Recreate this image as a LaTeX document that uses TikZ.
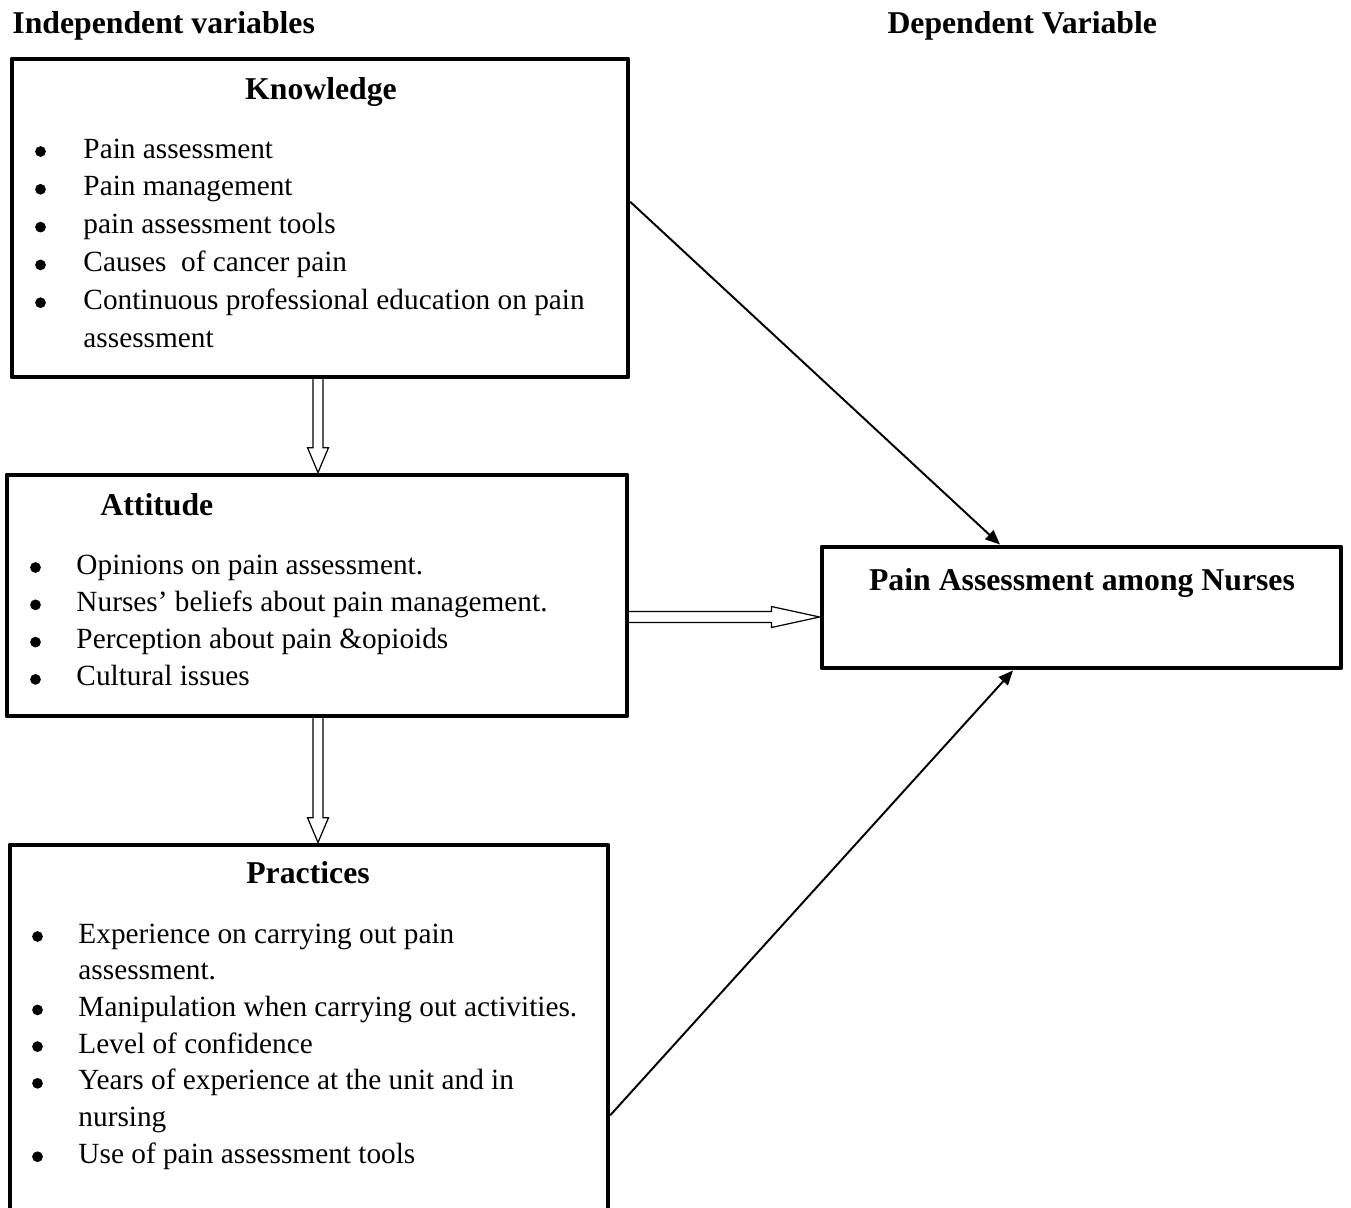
\documentclass[tikz,border=0pt]{standalone}
\usepackage{fontspec}
\setmainfont{Liberation Serif}
\usetikzlibrary{arrows.meta,calc,fit}
\tikzset{
  box/.style={draw, line width=2pt, inner sep=0pt},
  item/.style={anchor=base west, inner sep=0pt, font=\fontsize{12}{14}\selectfont},
  dot/.style={circle, fill, inner sep=0pt, minimum size=4.4pt},
  head/.style={anchor=base, inner sep=0pt, font=\fontsize{13}{15}\selectfont\bfseries},
  link/.style={line width=0.8pt, -{Triangle[length=6pt,width=5pt]}},
  hollow/.style={line width=0.5pt, line join=miter}
}
% hollow block arrows, from #1 to #2
\newcommand\hollowdown[2]{%
  \draw[hollow] ($(#1)+(-2.05pt,0pt)$) -- ($(#2)+(-2.05pt,10.2pt)$) -- ($(#2)+(-4.3pt,10.2pt)$) -- (#2)
    -- ($(#2)+(4.3pt,10.2pt)$) -- ($(#2)+(2.05pt,10.2pt)$) -- ($(#1)+(2.05pt,0pt)$);}
\newcommand\hollowright[2]{%
  \draw[hollow] ($(#1)+(0pt,2.25pt)$) -- ($(#2)+(-19.7pt,2.25pt)$) -- ($(#2)+(-19.7pt,4.3pt)$) -- (#2)
    -- ($(#2)+(-19.7pt,-4.3pt)$) -- ($(#2)+(-19.7pt,-2.25pt)$) -- ($(#1)+(0pt,-2.25pt)$);}
\begin{document}
\begin{tikzpicture}[x=0.4096pt, y=-0.4096pt, line join=round, line cap=round]
\clip (0,0) rectangle (1351,1207);
\node[head, anchor=base west] (indep) at (12,33) {Independent variables};
\node[head, anchor=base west] (dep) at (887,33) {Dependent Variable};
% boxes
\node[box, fit={(12,59) (628,377)}] (know) {};
\node[box, fit={(7,475) (627,716)}] (att) {};
\node[box, fit={(10,845) (608,1240)}] (prac) {};
\node[box, fit={(822,547) (1341,668)}] (pain) {};
% titles
\node[head] (knowt) at (321,99) {Knowledge};
\node[head, anchor=base west] (attt) at (100,515) {Attitude};
\node[head] (pract) at (308,883) {Practices};
\node[head] (paint) at (1082,590) {Pain Assessment among Nurses};
% lists
\foreach \t/\b [count=\i] in {Pain assessment/1, Pain management/1, pain assessment tools/1,
  Causes\ \ of cancer pain/1, Continuous professional education on pain/1, assessment/0}{
  \ifnum\b=1 \node[dot] (kb\i) at (40.5,{151.5+37.8*(\i-1)}) {};\fi
  \node[item] (k\i) at (83,{158+37.8*(\i-1)}) {\t};
}
\foreach \t/\b [count=\i] in {Opinions on pain assessment./1, Nurses' beliefs about pain management./1,
  Perception about pain \&opioids/1, Cultural issues/1}{
  \ifnum\b=1 \node[dot] (ab\i) at (35.5,{567.5+37.3*(\i-1)}) {};\fi
  \node[item] (a\i) at (76,{574+37.3*(\i-1)}) {\t};
}
\foreach \t/\b [count=\i] in {Experience on carrying out pain/1, assessment./0,
  Manipulation when carrying out activities./1, Level of confidence/1,
  Years of experience at the unit and in/1, nursing/0, Use of pain assessment tools/1}{
  \ifnum\b=1 \node[dot] (pb\i) at (37.5,{936.5+36.7*(\i-1)}) {};\fi
  \node[item] (p\i) at (78,{943+36.7*(\i-1)}) {\t};
}
% connectors
\coordinate (kout) at (0,202);
\coordinate (kin) at (1000,0);
\coordinate (pout) at (0,1115);
\coordinate (pin) at (1013,0);
\coordinate (lvl) at (0,617);
\coordinate (col) at (318,0);
\draw[link] (know.east |- kout) -- (pain.north -| kin);
\draw[link] (prac.east |- pout) -- (pain.south -| pin);
\hollowdown{know.south -| col}{att.north -| col}
\hollowdown{att.south -| col}{prac.north -| col}
\hollowright{att.east |- lvl}{pain.west |- lvl}
\end{tikzpicture}
\end{document}
